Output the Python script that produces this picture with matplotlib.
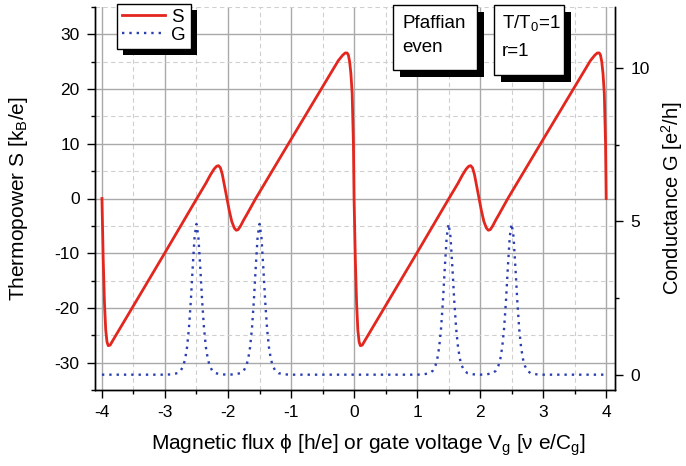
import matplotlib
matplotlib.use("Agg")
import matplotlib.pyplot as plt
from matplotlib.patches import Rectangle
from matplotlib.ticker import MultipleLocator
from matplotlib.transforms import IdentityTransform

OUT_FIG = "out.png"

# thermopower S, first period (-4 .. 0)
s_x_left = [-4.0, -3.98, -3.96, -3.94, -3.92, -3.90, -3.87, -3.83, -3.5, -3.0,
            -2.5, -2.35, -2.28, -2.22, -2.18, -2.15, -2.12, -2.09, -2.06, -2.02,
            -1.98, -1.94, -1.90, -1.87, -1.84, -1.80, -1.75, -1.70, -1.56, -1.0,
            -0.5, -0.25, -0.18, -0.14, -0.11, -0.09, -0.07, -0.05, -0.03, -0.01, 0.0]
s_left = [0, -11, -19, -24, -26.2, -26.9, -26.8, -26.0, -19.6, -9.9,
          -0.1, 2.8, 4.3, 5.4, 5.9, 6.0, 5.6, 4.4, 2.6, 0.2,
          -2.2, -4.2, -5.4, -5.8, -5.7, -5.0, -3.9, -2.9, 0.0, 10.8,
          20.4, 25.2, 26.2, 26.6, 26.6, 26.2, 25.0, 22.8, 19.2, 10.0, 0.0]

# thermopower S, second period (0 .. 4)
s_x_right = [0.02, 0.04, 0.06, 0.08, 0.10, 0.13, 0.17, 0.5, 1.0,
             1.5, 1.65, 1.72, 1.78, 1.82, 1.85, 1.88, 1.91, 1.94, 1.98,
             2.02, 2.06, 2.10, 2.13, 2.16, 2.20, 2.25, 2.30, 2.44, 3.0,
             3.5, 3.75, 3.82, 3.86, 3.89, 3.91, 3.93, 3.95, 3.97, 3.99, 4.0]
s_right = [-11, -19, -24, -26.2, -26.9, -26.8, -26.0, -19.6, -9.9,
           -0.1, 2.8, 4.3, 5.4, 5.9, 6.0, 5.6, 4.4, 2.6, 0.2,
           -2.2, -4.2, -5.4, -5.8, -5.7, -5.0, -3.9, -2.9, 0.0, 10.8,
           20.4, 25.2, 26.2, 26.6, 26.6, 26.2, 25.0, 22.8, 19.2, 10.0, 0.0]

# conductance G
g_x = [-4.0,
       -3.0, -2.9, -2.8, -2.75, -2.71, -2.68, -2.65, -2.62, -2.59, -2.56, -2.53, -2.5,
       -2.47, -2.44, -2.41, -2.38, -2.35, -2.32, -2.29, -2.25, -2.2, -2.1, -2.0,
       -1.9, -1.8, -1.75, -1.71, -1.68, -1.65, -1.62, -1.59, -1.56, -1.53, -1.5,
       -1.47, -1.44, -1.41, -1.38, -1.35, -1.32, -1.29, -1.25, -1.2, -1.1, -1.0,
       1.0, 1.1, 1.2, 1.25, 1.29, 1.32, 1.35, 1.38, 1.41, 1.44, 1.47, 1.5,
       1.53, 1.56, 1.59, 1.62, 1.65, 1.68, 1.71, 1.75, 1.8, 1.9, 2.0,
       2.1, 2.2, 2.25, 2.29, 2.32, 2.35, 2.38, 2.41, 2.44, 2.47, 2.5,
       2.53, 2.56, 2.59, 2.62, 2.65, 2.68, 2.71, 2.75, 2.8, 2.9, 3.0,
       4.0]
g = [0,
     0, 0.01, 0.05, 0.13, 0.29, 0.51, 0.89, 1.5, 2.4, 3.5, 4.5, 4.92,
     4.5, 3.5, 2.4, 1.5, 0.89, 0.51, 0.29, 0.13, 0.05, 0.01, 0,
     0.01, 0.05, 0.13, 0.29, 0.51, 0.89, 1.5, 2.4, 3.5, 4.5, 4.92,
     4.5, 3.5, 2.4, 1.5, 0.89, 0.51, 0.29, 0.13, 0.05, 0.01, 0,
     0, 0.01, 0.05, 0.13, 0.29, 0.51, 0.89, 1.5, 2.4, 3.5, 4.5, 4.92,
     4.5, 3.5, 2.4, 1.5, 0.89, 0.51, 0.29, 0.13, 0.05, 0.01, 0,
     0.01, 0.05, 0.13, 0.29, 0.51, 0.89, 1.5, 2.4, 3.5, 4.5, 4.92,
     4.5, 3.5, 2.4, 1.5, 0.89, 0.51, 0.29, 0.13, 0.05, 0.01, 0,
     0]

RED = "#e3271f"
BLUE = "#2c3fb0"

plt.rcParams["font.family"] = ["Liberation Sans", "DejaVu Sans"]
plt.rcParams["mathtext.fontset"] = "custom"
plt.rcParams["mathtext.rm"] = "Liberation Sans"
plt.rcParams["mathtext.it"] = "Liberation Sans:italic"
plt.rcParams["axes.unicode_minus"] = False

W, H = 686, 466
AX_L, AX_R, AX_T, AX_B = 95, 615, 7, 390


def fx(px):
    return px / W


def fy(py):
    return 1 - py / H


def main():
    fig = plt.figure(figsize=(W / 100, H / 100), dpi=100)
    ax = fig.add_axes([fx(AX_L), fy(AX_B), fx(AX_R) - fx(AX_L), fy(AX_T) - fy(AX_B)])
    ax2 = ax.twinx()

    ax.plot(s_x_left + s_x_right, s_left + s_right, color=RED, lw=2.0,
            label="S", zorder=3)
    ax2.plot(g_x, g, color=BLUE, lw=1.7, linestyle=(0, (1, 2.1)), label="G")

    ax.set_xlim(-4.11, 4.14)
    ax.set_ylim(-35, 35)
    ax2.set_ylim(-0.5, 12)

    ax.xaxis.set_major_locator(MultipleLocator(1))
    ax.xaxis.set_minor_locator(MultipleLocator(0.5))
    ax.yaxis.set_major_locator(MultipleLocator(10))
    ax.yaxis.set_minor_locator(MultipleLocator(5))
    ax2.yaxis.set_major_locator(MultipleLocator(5))
    ax2.yaxis.set_minor_locator(MultipleLocator(2.5))

    ax.set_axisbelow(True)
    ax.grid(which="major", color="#a9a9a9", lw=1.0, ls="-")
    ax.grid(which="minor", color="#cfcfcf", lw=0.8, ls=(0, (4, 3)))

    for a in (ax, ax2):
        a.tick_params(which="major", direction="out", length=6, width=1,
                      labelsize=12.5, pad=5)
        a.tick_params(which="minor", direction="out", length=3, width=1)
        for sp in a.spines.values():
            sp.set_linewidth(1.0)
        a.spines["top"].set_visible(False)

    ax.set_xlabel("Magnetic flux \u03d5 [h/e] or gate voltage V$_\\mathregular{g}$ "
                  "[\u03bd e/C$_\\mathregular{g}$]", fontsize=15)
    ax.set_ylabel("Thermopower S [k$_\\mathregular{B}$/e]", fontsize=15)
    ax2.set_ylabel("Conductance G [e$^\\mathregular{2}$/h]", fontsize=14.5)

    aw = AX_R - AX_L
    ah = AX_B - AX_T
    ax.xaxis.set_label_coords((368 - AX_L) / aw, (AX_B - 445) / ah)
    ax.xaxis.label.set_va("center")
    ax.yaxis.set_label_coords((18 - AX_L) / aw, 0.5)
    ax.yaxis.label.set_va("center")
    ax2.yaxis.set_label_coords((672 - AX_L) / aw, 0.5)
    ax2.yaxis.label.set_va("center")

    # legend with solid black shadow
    h1, l1 = ax.get_legend_handles_labels()
    h2, l2 = ax2.get_legend_handles_labels()
    leg = fig.legend(h1 + h2, l1 + l2, loc="upper left",
                     bbox_to_anchor=(fx(117), fy(4)), borderaxespad=0,
                     fontsize=13.5, frameon=True, fancybox=False, framealpha=1,
                     edgecolor="black", handlelength=2.3, handletextpad=0.35,
                     labelspacing=0.05, borderpad=0.25)
    leg.get_frame().set_linewidth(1.0)
    leg.set_zorder(5)

    # text boxes (shadow first, then white box)
    boxes = [(393, 5, 477, 70), (494, 5, 564, 75)]
    for x0, y0, x1, y1 in boxes:
        fig.add_artist(Rectangle((fx(x0 + 7), fy(y1 + 7)), fx(x1) - fx(x0),
                                 fy(y0) - fy(y1), transform=fig.transFigure,
                                 facecolor="black", edgecolor="none", zorder=4))
        fig.add_artist(Rectangle((fx(x0), fy(y1)), fx(x1) - fx(x0),
                                 fy(y0) - fy(y1), transform=fig.transFigure,
                                 facecolor="white", edgecolor="black", lw=1.0,
                                 zorder=4.5))
    fig.text(fx(402), fy(23), "Pfaffian", fontsize=13.5, va="center", zorder=6)
    fig.text(fx(402), fy(48), "even", fontsize=13.5, va="center", zorder=6)
    fig.text(fx(502), fy(23), "T/T$_\\mathregular{0}$=1", fontsize=13.5,
             va="center", zorder=6)
    fig.text(fx(502), fy(52), "r=1", fontsize=13.5, va="center", zorder=6)

    fig.canvas.draw()
    bb = leg.get_window_extent()
    fig.add_artist(Rectangle((bb.x0 + 6, bb.y0 - 6), bb.width, bb.height,
                             transform=IdentityTransform(), facecolor="black",
                             edgecolor="none", zorder=4))

    fig.savefig(OUT_FIG, dpi=100)
    plt.close(fig)


if __name__ == "__main__":
    main()
